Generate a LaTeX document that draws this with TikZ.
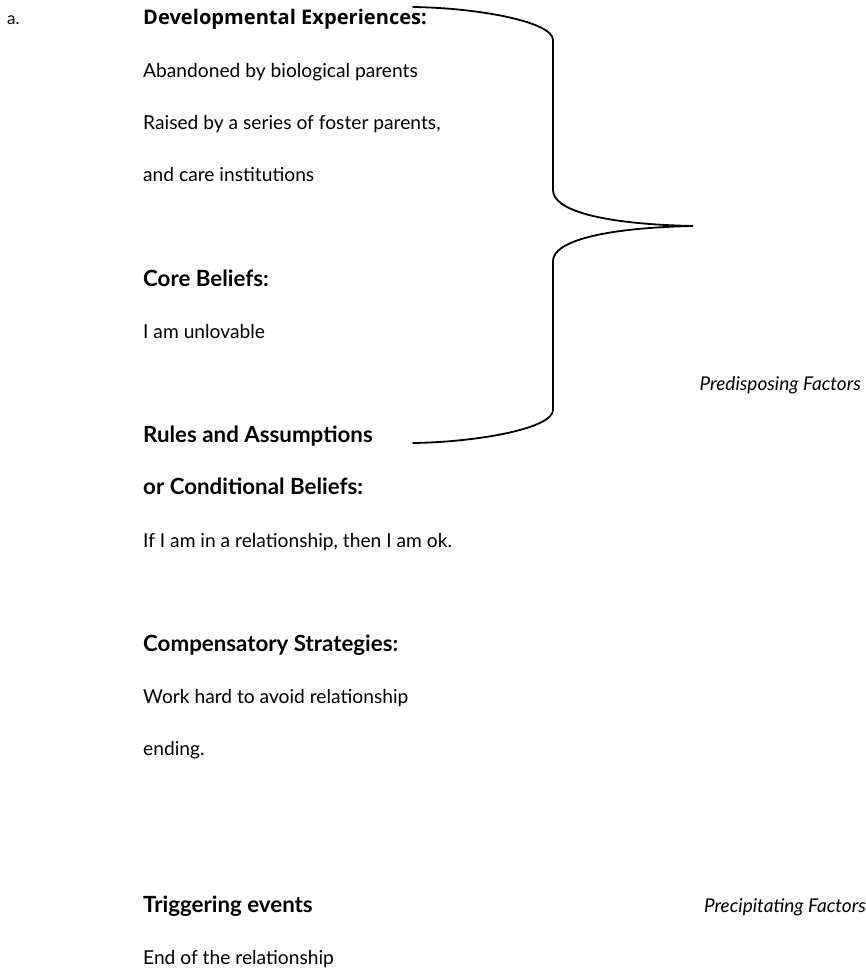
\documentclass[tikz,border=0pt]{standalone}
\usepackage{fontspec}
\setmainfont{Lato}
\newfontfamily\headfont{Open Sans}
\begin{document}
\begin{tikzpicture}[x=1pt,y=-1pt,
  body/.style={anchor=base west,inner sep=0pt,font=\fontsize{19.2}{22}\selectfont},
  head/.style={body,font=\fontsize{22.3}{26}\selectfont\bfseries},
  factor/.style={anchor=base east,inner sep=0pt,font=\fontsize{19}{22}\selectfont\itshape},
  bracket/.style={line width=1.8pt,line cap=round}]
\useasboundingbox (0,0) rectangle (866,968);
% text column: baselines on a 52.2pt grid
\node[body,font=\fontsize{17}{20}\selectfont] (lbl) at (7,25) {a.};
\node[head,font=\fontsize{20.1}{24}\selectfont\headfont\bfseries] (dev) at (143,25) {Developmental Experiences:};
\node[body] (dev1) at (143,77.2) {Abandoned by biological parents};
\node[body] (dev2) at (143,129.4) {Raised by a series of foster parents,};
\node[body] (dev3) at (143,181.6) {and care institutions};
\node[head] (core) at (143,286) {Core Beliefs:};
\node[body] (core1) at (143,338.2) {I am unlovable};
\node[factor] (pre) at (861,390.4) {Predisposing Factors};
\node[head] (rules) at (143,442.6) {Rules and Assumptions};
\node[head] (rules2) at (143,494.8) {or Conditional Beliefs:};
\node[body] (rules3) at (143,547) {If I am in a relationship, then I am ok.};
\node[head] (comp) at (143,651.4) {Compensatory Strategies:};
\node[body] (comp1) at (143,703.6) {Work hard to avoid relationship};
\node[body] (comp2) at (143,755.8) {ending.};
\node[head] (trig) at (143,912.4) {Triggering events};
\node[factor] (prec) at (866,912.4) {Precipitating Factors};
\node[body] (trig1) at (143,964.6) {End of the relationship};
% curly bracket grouping the predisposing items
\coordinate (btop) at (413,7);
\coordinate (bup) at (553,40);
\coordinate (bmid1) at (553,190);
\coordinate (tip) at (693,226);
\coordinate (bmid2) at (553,261);
\coordinate (blow) at (553,410);
\coordinate (bbot) at (413,443);
\draw[bracket] (btop) .. controls (480,8) and (553,22) .. (bup)
  -- (bmid1) .. controls (553,210) and (600,224) .. (tip)
  .. controls (600,228) and (553,242) .. (bmid2)
  -- (blow) .. controls (553,428) and (480,442) .. (bbot);
\end{tikzpicture}
\end{document}
